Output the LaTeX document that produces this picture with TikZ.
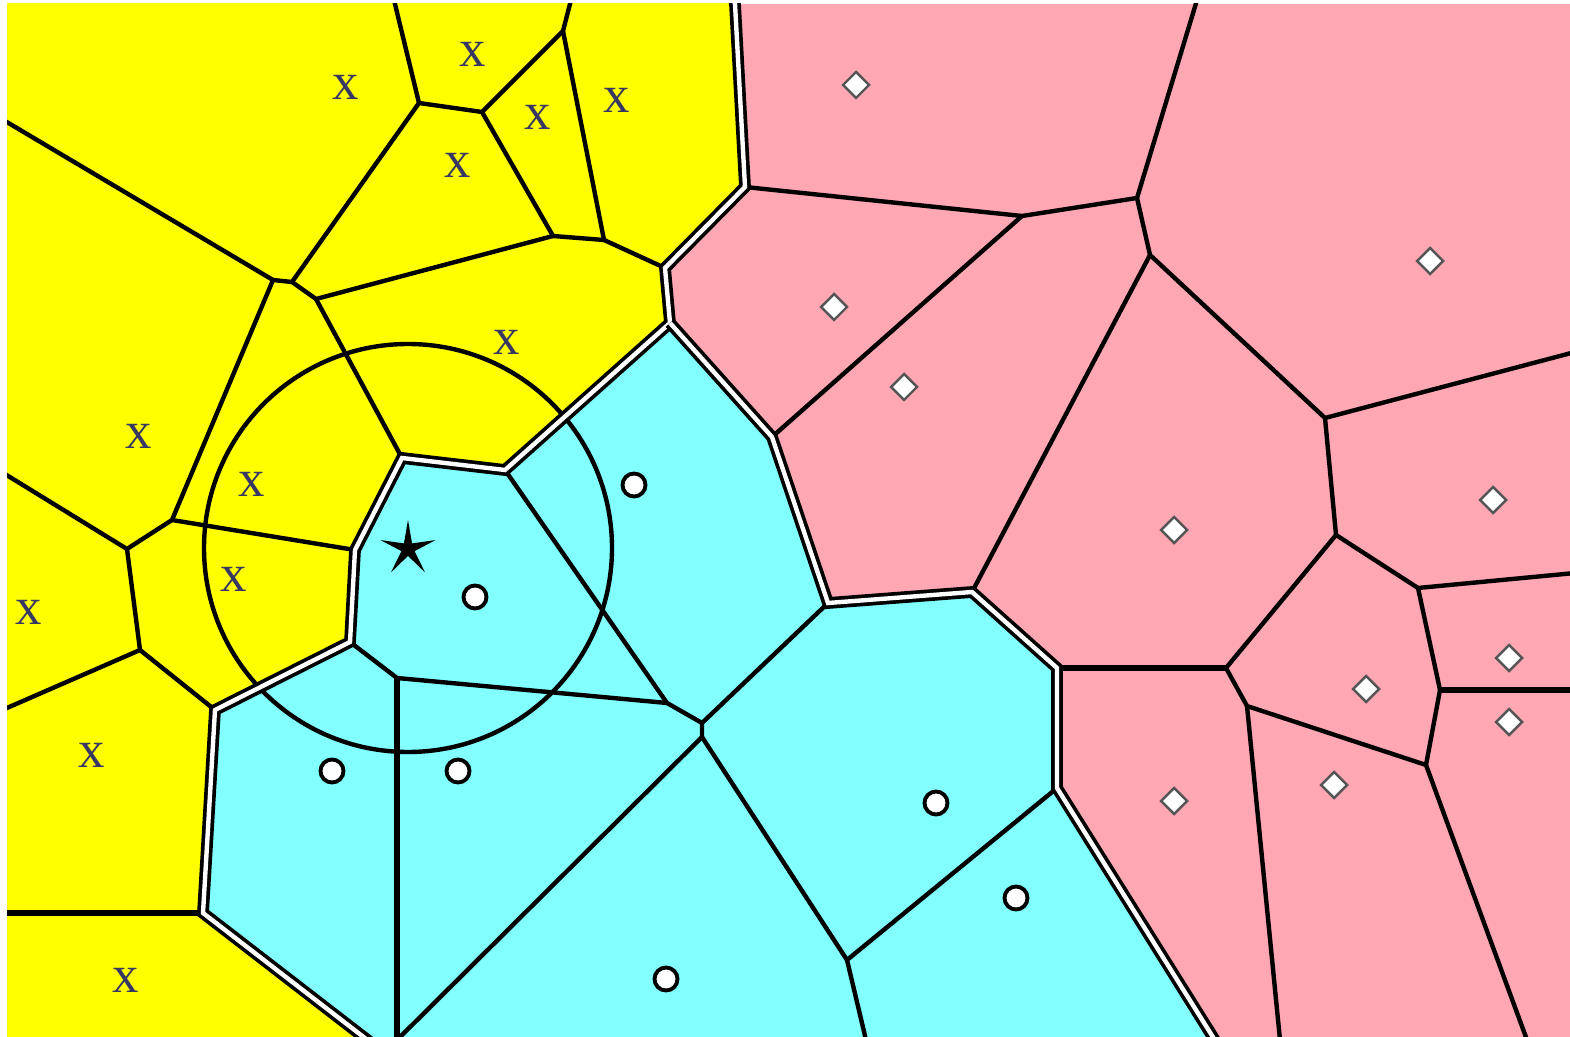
\documentclass[tikz,border=0pt]{standalone}
\usepackage{fontspec}
\setmainfont{Liberation Serif}
\usetikzlibrary{shapes.geometric}
\definecolor{yel}{RGB}{255,255,0}
\definecolor{cya}{RGB}{130,255,255}
\definecolor{pnk}{RGB}{255,168,180}
\definecolor{xcol}{RGB}{55,55,100}
\definecolor{dgray}{RGB}{85,85,85}
\begin{document}
\begin{tikzpicture}[x=0.01cm,y=-0.01cm,
  edge/.style={draw=black,line width=1.25pt,line join=round},
  thickedge/.style={draw=black,line width=1.5pt},
  border/.style={draw=black,line width=1.05pt,double=white,double distance=1.25pt,line join=miter},
  xlab/.style={text=xcol,inner sep=0pt,font=\fontsize{15}{15}\selectfont},
  dot/.style={circle,draw=black,fill=white,line width=1.1pt,minimum size=0.23cm,inner sep=0pt},
  dia/.style={diamond,draw=dgray,fill=white,line width=0.7pt,minimum size=0.27cm,inner sep=0pt},
  qstar/.style={star,star points=5,star point ratio=4.2,fill=black,minimum size=0.58cm,inner sep=0pt}]
\useasboundingbox (0,0) rectangle (1570,1037);
\begin{scope}
\clip (7,4) rectangle (1570,1037);
% regions
\fill[pnk] (7,4) rectangle (1570,1037);
\fill[yel] (0,0)--(734,0)--(735,4)--(745,187)--(665,268)--(670,323)--(505,470)--(402,458)--(355,550)--(350,642)--(215,710)--(203,913)--(365,1037)--(0,1040)--cycle;
\fill[cya] (670,323)--(772,437)--(828,603)--(972,592)--(1057,668)--(1057,788)--(1213,1037)--(365,1037)--(203,913)--(215,710)--(350,642)--(355,550)--(402,458)--(505,470)--cycle;
% yellow edges
\draw[edge] (394,0)--(419,103)--(482,112)--(563,31)--(571,0);
\draw[edge] (563,31)--(604,240);
\draw[edge] (482,112)--(553,236)--(604,240)--(665,268);
\draw[edge] (419,103)--(292,282);
\draw[edge] (0,118)--(273,280)--(292,282)--(316,299)--(553,236);
\draw[edge] (316,299)--(402,458);
\draw[edge] (273,280)--(172,520)--(127,549)--(0,471);
\draw[edge] (127,549)--(140,650)--(0,711);
\draw[edge] (140,650)--(215,710);
\draw[edge] (172,520)--(355,550);
\draw[thickedge] (0,913)--(203,913);
% cyan edges
\draw[edge] (505,470)--(667,703)--(702,723)--(702,737);
\draw[edge] (702,723)--(828,603);
\draw[edge] (350,642)--(397,678)--(667,703);
\draw[thickedge] (397,678)--(397,1040);
\draw[edge] (702,737)--(397,1040);
\draw[edge] (702,737)--(847,960)--(866,1040);
\draw[edge] (847,960)--(1057,788);
% pink edges
\draw[edge] (745,187)--(1022,216)--(1137,198)--(1197,0);
\draw[edge] (1137,198)--(1150,255)--(1325,418)--(1575,352);
\draw[edge] (1022,216)--(772,437);
\draw[edge] (1150,255)--(972,592);
\draw[edge] (1325,418)--(1336,535)--(1418,588)--(1575,573);
\draw[edge] (1418,588)--(1440,690);
\draw[thickedge] (1440,690)--(1575,690);
\draw[edge] (1440,690)--(1426,765)--(1247,706)--(1226,668)--(1336,535);
\draw[thickedge] (1226,668)--(1057,668);
\draw[edge] (1247,706)--(1280,1040);
\draw[edge] (1426,765)--(1527,1040);
% query circle
\draw[edge] (408,548) circle[radius=204];
% region borders
\draw[border] (734,0)--(735,4)--(745,187)--(665,268)--(670,323)--(505,470)--(402,458)--(355,550)--(350,642)--(215,710)--(203,913)--(370,1042);
\draw[border] (670,323)--(772,437)--(828,603)--(972,592)--(1057,668)--(1057,788)--(1216,1042);
\end{scope}
% query point
\node[qstar] (q) at (408,549) {};
% yellow sites
\node[xlab] (x1) at (346,87) {x};
\node[xlab] (x2) at (473,54) {x};
\node[xlab] (x3) at (538,117) {x};
\node[xlab] (x4) at (617,100) {x};
\node[xlab] (x5) at (458,165) {x};
\node[xlab] (x6) at (507,342) {x};
\node[xlab] (x7) at (139,436) {x};
\node[xlab] (x8) at (252,484) {x};
\node[xlab] (x9) at (234,579) {x};
\node[xlab] (x10) at (29,612) {x};
\node[xlab] (x11) at (92,755) {x};
\node[xlab] (x12) at (126,980) {x};
% cyan sites
\node[dot] (c1) at (634,485) {};
\node[dot] (c2) at (475,597) {};
\node[dot] (c3) at (332,771) {};
\node[dot] (c4) at (458,771) {};
\node[dot] (c5) at (936,803) {};
\node[dot] (c6) at (1016,898) {};
\node[dot] (c7) at (666,979) {};
% pink sites
\node[dia] (d1) at (856,85) {};
\node[dia] (d2) at (834,307) {};
\node[dia] (d3) at (904,387) {};
\node[dia] (d4) at (1430,261) {};
\node[dia] (d5) at (1493,500) {};
\node[dia] (d6) at (1174,530) {};
\node[dia] (d7) at (1509,658) {};
\node[dia] (d8) at (1366,689) {};
\node[dia] (d9) at (1509,722) {};
\node[dia] (d10) at (1334,785) {};
\node[dia] (d11) at (1174,801) {};
\end{tikzpicture}
\end{document}
